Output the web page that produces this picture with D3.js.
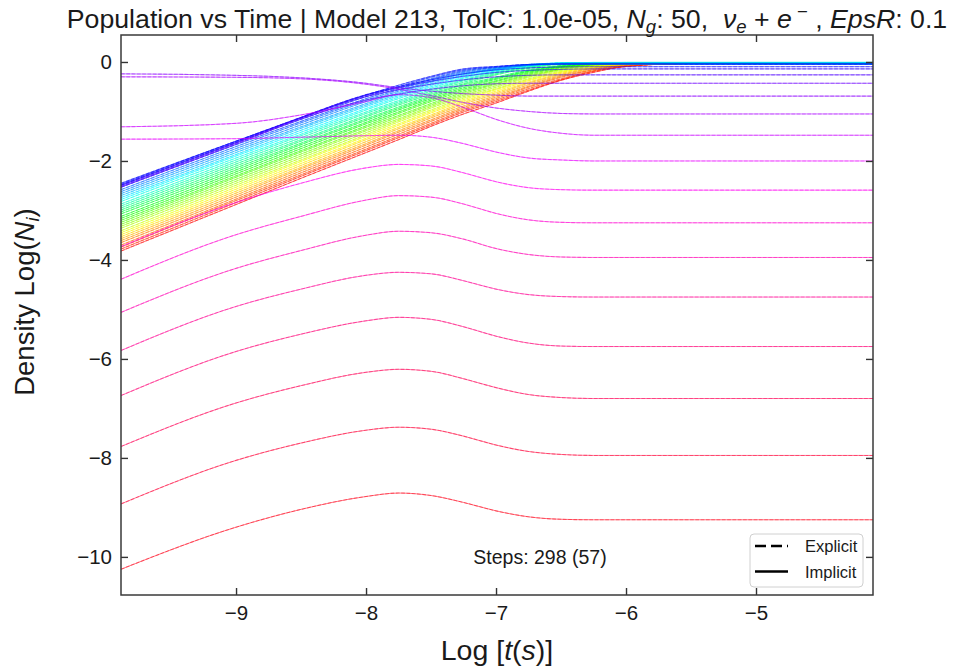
<!DOCTYPE html>
<html><head><meta charset="utf-8">
<script src="https://cdn.jsdelivr.net/npm/d3@7"></script>
<style>
body{margin:0;background:#fff}
text{font-family:"Liberation Sans",Arial,Helvetica,sans-serif;fill:#1a1a1a;white-space:pre}
</style>
</head><body>
<svg id="chart" width="953" height="670"></svg>
<script>
// ---- data -------------------------------------------------------------
const logT = [-9.885, -9, -8.5, -8, -7.75, -7.5, -7.25, -7, -6.75, -6.5, -6.25, -6, -5.5, -4.1];
const xTicks = [-9, -8, -7, -6, -5];
const yTicks = [0, -2, -4, -6, -8, -10];
const nGroups = 50;
const stepsLabel = "Steps: 298 (57)";
const legendLabels = ["Explicit", "Implicit"];

// groups 0-33 (low energy band)
const densityLow = [
 [-3.82,-2.88,-2.35,-1.83,-1.57,-1.30,-1.05,-0.83,-0.59,-0.37,-0.21,-0.09,-0.03,-0.03],
 [-3.78,-2.84,-2.31,-1.79,-1.53,-1.27,-1.01,-0.80,-0.57,-0.36,-0.19,-0.09,-0.03,-0.03],
 [-3.74,-2.80,-2.28,-1.76,-1.50,-1.24,-0.98,-0.77,-0.54,-0.34,-0.18,-0.08,-0.03,-0.03],
 [-3.70,-2.77,-2.24,-1.72,-1.46,-1.20,-0.95,-0.74,-0.51,-0.31,-0.16,-0.07,-0.03,-0.03],
 [-3.65,-2.73,-2.20,-1.68,-1.42,-1.17,-0.92,-0.71,-0.49,-0.29,-0.15,-0.06,-0.03,-0.03],
 [-3.61,-2.69,-2.16,-1.65,-1.39,-1.13,-0.89,-0.68,-0.46,-0.27,-0.13,-0.06,-0.03,-0.03],
 [-3.57,-2.65,-2.13,-1.61,-1.35,-1.10,-0.85,-0.65,-0.43,-0.25,-0.12,-0.05,-0.03,-0.03],
 [-3.53,-2.61,-2.09,-1.57,-1.32,-1.07,-0.82,-0.62,-0.41,-0.23,-0.11,-0.05,-0.03,-0.03],
 [-3.49,-2.57,-2.05,-1.54,-1.28,-1.03,-0.79,-0.59,-0.38,-0.21,-0.10,-0.05,-0.03,-0.03],
 [-3.45,-2.53,-2.01,-1.50,-1.25,-1.00,-0.76,-0.56,-0.36,-0.20,-0.09,-0.04,-0.03,-0.03],
 [-3.41,-2.49,-1.98,-1.47,-1.21,-0.97,-0.73,-0.54,-0.34,-0.18,-0.08,-0.04,-0.03,-0.03],
 [-3.36,-2.45,-1.94,-1.43,-1.18,-0.93,-0.70,-0.51,-0.31,-0.16,-0.07,-0.04,-0.03,-0.03],
 [-3.32,-2.41,-1.90,-1.39,-1.15,-0.90,-0.67,-0.48,-0.29,-0.15,-0.06,-0.04,-0.03,-0.03],
 [-3.28,-2.37,-1.86,-1.36,-1.11,-0.87,-0.64,-0.45,-0.27,-0.14,-0.06,-0.03,-0.03,-0.03],
 [-3.24,-2.33,-1.82,-1.32,-1.08,-0.84,-0.61,-0.43,-0.25,-0.12,-0.05,-0.03,-0.03,-0.03],
 [-3.20,-2.30,-1.79,-1.29,-1.04,-0.80,-0.58,-0.40,-0.23,-0.11,-0.05,-0.03,-0.03,-0.03],
 [-3.16,-2.26,-1.75,-1.25,-1.01,-0.77,-0.55,-0.38,-0.21,-0.10,-0.04,-0.03,-0.03,-0.03],
 [-3.12,-2.22,-1.71,-1.22,-0.97,-0.74,-0.52,-0.35,-0.19,-0.09,-0.04,-0.03,-0.03,-0.03],
 [-3.07,-2.18,-1.67,-1.18,-0.94,-0.71,-0.49,-0.33,-0.18,-0.08,-0.04,-0.03,-0.03,-0.03],
 [-3.03,-2.14,-1.64,-1.15,-0.91,-0.68,-0.46,-0.31,-0.16,-0.07,-0.03,-0.03,-0.03,-0.03],
 [-2.99,-2.10,-1.60,-1.11,-0.87,-0.65,-0.44,-0.26,-0.13,-0.04,-0.02,-0.01,-0.01,-0.01],
 [-2.95,-2.06,-1.57,-1.08,-0.84,-0.62,-0.41,-0.24,-0.11,-0.04,-0.02,-0.01,-0.01,-0.01],
 [-2.91,-2.02,-1.53,-1.04,-0.81,-0.59,-0.38,-0.22,-0.10,-0.03,-0.02,-0.01,-0.01,-0.01],
 [-2.87,-1.98,-1.49,-1.01,-0.78,-0.56,-0.36,-0.20,-0.09,-0.03,-0.01,-0.01,-0.01,-0.01],
 [-2.82,-1.94,-1.46,-0.97,-0.74,-0.53,-0.33,-0.18,-0.08,-0.02,-0.01,-0.01,-0.01,-0.01],
 [-2.78,-1.90,-1.42,-0.94,-0.71,-0.50,-0.31,-0.17,-0.07,-0.02,-0.01,-0.01,-0.01,-0.01],
 [-2.74,-1.87,-1.38,-0.90,-0.68,-0.47,-0.28,-0.15,-0.06,-0.02,-0.01,-0.01,-0.01,-0.01],
 [-2.70,-1.83,-1.34,-0.87,-0.65,-0.44,-0.26,-0.13,-0.05,-0.02,-0.01,-0.01,-0.01,-0.01],
 [-2.66,-1.79,-1.31,-0.84,-0.62,-0.41,-0.24,-0.15,-0.07,-0.04,-0.04,-0.04,-0.04,-0.04],
 [-2.62,-1.75,-1.27,-0.80,-0.59,-0.39,-0.22,-0.14,-0.07,-0.04,-0.04,-0.04,-0.04,-0.04],
 [-2.58,-1.71,-1.23,-0.77,-0.56,-0.36,-0.20,-0.12,-0.06,-0.04,-0.04,-0.04,-0.04,-0.04],
 [-2.53,-1.67,-1.20,-0.74,-0.53,-0.34,-0.18,-0.11,-0.06,-0.04,-0.04,-0.04,-0.04,-0.04],
 [-2.49,-1.63,-1.16,-0.70,-0.50,-0.31,-0.16,-0.10,-0.05,-0.04,-0.04,-0.04,-0.04,-0.04],
 [-2.45,-1.60,-1.13,-0.67,-0.47,-0.29,-0.14,-0.09,-0.05,-0.04,-0.04,-0.04,-0.04,-0.04]
];
// groups 34-41 (initial bump and neighbours)
const densityMid = [
 [-2.47,-1.60,-1.12,-0.66,-0.50,-0.36,-0.24,-0.16,-0.12,-0.10,-0.095,-0.095,-0.095,-0.095],
 [-2.49,-1.62,-1.12,-0.67,-0.52,-0.39,-0.29,-0.21,-0.17,-0.15,-0.14,-0.14,-0.14,-0.14],
 [-2.51,-1.64,-1.13,-0.70,-0.56,-0.45,-0.36,-0.30,-0.27,-0.26,-0.26,-0.26,-0.26,-0.26],
 [-2.53,-1.66,-1.15,-0.77,-0.65,-0.55,-0.48,-0.44,-0.43,-0.43,-0.43,-0.43,-0.43,-0.43],
 [-0.24,-0.27,-0.32,-0.43,-0.52,-0.59,-0.64,-0.67,-0.69,-0.69,-0.69,-0.69,-0.69,-0.69],
 [-0.30,-0.31,-0.34,-0.45,-0.55,-0.68,-0.82,-0.93,-1.00,-1.04,-1.05,-1.05,-1.05,-1.05],
 [-1.31,-1.24,-1.07,-0.80,-0.66,-0.72,-0.92,-1.16,-1.34,-1.44,-1.48,-1.48,-1.48,-1.48],
 [-1.56,-1.55,-1.52,-1.49,-1.48,-1.52,-1.65,-1.82,-1.94,-1.98,-2.00,-2.00,-2.00,-2.00]
];
// groups 42-49 (high energy, overshoot then relax)
const densityHigh = [
 [-3.73,-2.84,-2.45,-2.14,-2.07,-2.10,-2.24,-2.42,-2.54,-2.58,-2.59,-2.59,-2.59,-2.59],
 [-4.39,-3.49,-3.12,-2.79,-2.70,-2.73,-2.87,-3.06,-3.19,-3.24,-3.25,-3.25,-3.25,-3.25],
 [-5.06,-4.17,-3.81,-3.50,-3.42,-3.45,-3.58,-3.77,-3.89,-3.94,-3.95,-3.95,-3.95,-3.95],
 [-5.83,-4.94,-4.59,-4.31,-4.25,-4.28,-4.42,-4.59,-4.70,-4.74,-4.75,-4.75,-4.75,-4.75],
 [-6.74,-5.85,-5.50,-5.23,-5.16,-5.20,-5.35,-5.54,-5.68,-5.74,-5.75,-5.75,-5.75,-5.75],
 [-7.77,-6.89,-6.54,-6.27,-6.21,-6.25,-6.40,-6.58,-6.72,-6.78,-6.80,-6.80,-6.80,-6.80],
 [-8.93,-8.05,-7.70,-7.44,-7.38,-7.42,-7.56,-7.74,-7.87,-7.93,-7.95,-7.95,-7.95,-7.95],
 [-10.25,-9.40,-9.04,-8.78,-8.71,-8.76,-8.90,-9.07,-9.19,-9.24,-9.25,-9.25,-9.25,-9.25]
];

// ---- layout ------------------------------------------------------------
const m = {left: 121, right: 873, top: 35, bottom: 595};
const svg = d3.select("#chart");
const x = d3.scaleLinear().domain([logT[0], logT[logT.length-1]]).range([m.left, m.right]);
const y = d3.scaleLinear().domain([-10.77, 0.545]).range([m.bottom, m.top]);

// matplotlib-like 'hsv' colormap
const hsvMap = d3.scaleLinear()
  .domain([0, 0.15873, 0.174603, 0.333333, 0.349206, 0.507937, 0.666667, 0.68254, 0.84127, 0.857143, 1])
  .range(["#ff0000","#fff000","#f8ff00","#08ff00","#00ff10","#00ffff","#0010ff","#0000ff","#f000ff","#ff00f0","#ff0018"]);

const groups = densityLow.concat(densityMid, densityHigh);

svg.append("clipPath").attr("id","clip").append("rect")
  .attr("x", m.left).attr("y", m.top).attr("width", m.right-m.left).attr("height", m.bottom-m.top);

const line = d3.line().x((d,j)=>x(logT[j])).y(d=>y(d)).curve(d3.curveMonotoneX);
const plot = svg.append("g").attr("clip-path","url(#clip)");

groups.forEach((g,i)=>{
  const c = hsvMap(i/(nGroups-1));
  plot.append("path").attr("d", line(g)).attr("fill","none").attr("stroke", c)
    .attr("stroke-width", 1.1).attr("stroke-dasharray","3.7,1.6").attr("stroke-opacity",0.45);
});
groups.forEach((g,i)=>{
  const c = hsvMap(i/(nGroups-1));
  plot.append("path").attr("d", line(g)).attr("fill","none").attr("stroke", c)
    .attr("stroke-width", 0.9).attr("stroke-opacity",0.6);
});

// ---- axes --------------------------------------------------------------
const tickFont = 20.5;
const fmt = d3.format("d");
const axB = svg.append("g").attr("transform",`translate(0,${m.bottom})`)
  .call(d3.axisBottom(x).tickValues(xTicks).tickFormat(fmt).tickSizeInner(-7).tickSizeOuter(0).tickPadding(10));
const axT = svg.append("g").attr("transform",`translate(0,${m.top})`)
  .call(d3.axisTop(x).tickValues(xTicks).tickSizeInner(-7).tickSizeOuter(0).tickFormat(""));
const axL = svg.append("g").attr("transform",`translate(${m.left},0)`)
  .call(d3.axisLeft(y).tickValues(yTicks).tickFormat(fmt).tickSizeInner(-7).tickSizeOuter(0).tickPadding(9));
const axR = svg.append("g").attr("transform",`translate(${m.right},0)`)
  .call(d3.axisRight(y).tickValues(yTicks).tickSizeInner(-7).tickSizeOuter(0).tickFormat(""));
[axB,axT,axL,axR].forEach(a=>{
  a.select(".domain").remove();
  a.selectAll(".tick line").attr("stroke","#333").attr("stroke-width",1.4);
  a.selectAll(".tick text").style("font-size",tickFont+"px").style("font-family",'"Liberation Sans",Arial,sans-serif').attr("fill","#1a1a1a");
});
svg.append("rect").attr("x",m.left).attr("y",m.top).attr("width",m.right-m.left).attr("height",m.bottom-m.top)
  .attr("fill","none").attr("stroke","#3a3a3a").attr("stroke-width",1.5);

// ---- titles ------------------------------------------------------------
const title = svg.append("text").attr("x", 507).attr("y", 28).attr("text-anchor","middle").style("font-size","26.7px");
title.append("tspan").text("Population vs Time | Model 213, TolC: 1.0e-05, ");
title.append("tspan").attr("font-style","italic").text("N");
title.append("tspan").attr("font-style","italic").attr("font-size","18.5px").attr("dy",5).text("g");
title.append("tspan").attr("dy",-5).text(": 50,  ");
title.append("tspan").attr("font-style","italic").text("ν");
title.append("tspan").attr("font-style","italic").attr("font-size","18.5px").attr("dy",5).text("e");
title.append("tspan").attr("dy",-5).text(" + ");
title.append("tspan").attr("font-style","italic").text("e");
title.append("tspan").attr("font-size","18.5px").attr("dy",-10).text(" −");
title.append("tspan").attr("dy",10).text(" , ");
title.append("tspan").attr("font-style","italic").text("EpsR");
title.append("tspan").text(": 0.1");

const xl = svg.append("text").attr("x", 497).attr("y", 660).attr("text-anchor","middle").style("font-size","28.5px");
xl.append("tspan").text("Log [");
xl.append("tspan").attr("font-style","italic").text("t");
xl.append("tspan").text("(");
xl.append("tspan").attr("font-style","italic").text("s");
xl.append("tspan").text(")]");

const yl = svg.append("text").attr("transform","translate(34,302) rotate(-90)").attr("text-anchor","middle").style("font-size","27.5px");
yl.append("tspan").text("Density Log(");
yl.append("tspan").attr("font-style","italic").text("N");
yl.append("tspan").attr("font-style","italic").attr("font-size","18.5px").attr("dy",5).text("i");
yl.append("tspan").attr("dy",-5).text(")");

svg.append("text").attr("x", 540).attr("y", 564).attr("text-anchor","middle").style("font-size","19.5px").text(stepsLabel);

// ---- legend ------------------------------------------------------------
const lg = svg.append("g");
lg.append("rect").attr("x",750).attr("y",534).attr("width",113).attr("height",53).attr("rx",4)
  .attr("fill","#fff").attr("fill-opacity",0.85).attr("stroke","#d0d0d0");
legendLabels.forEach((lab,k)=>{
  const yy = 546 + k*25.5;
  lg.append("line").attr("x1",755).attr("x2",788).attr("y1",yy).attr("y2",yy).attr("stroke","#000")
    .attr("stroke-width",2.6).attr("stroke-dasharray", k===0 ? "11,5" : null);
  lg.append("text").attr("x",805).attr("y",yy+6).style("font-size","16.5px").text(lab);
});
</script>
</body></html>
